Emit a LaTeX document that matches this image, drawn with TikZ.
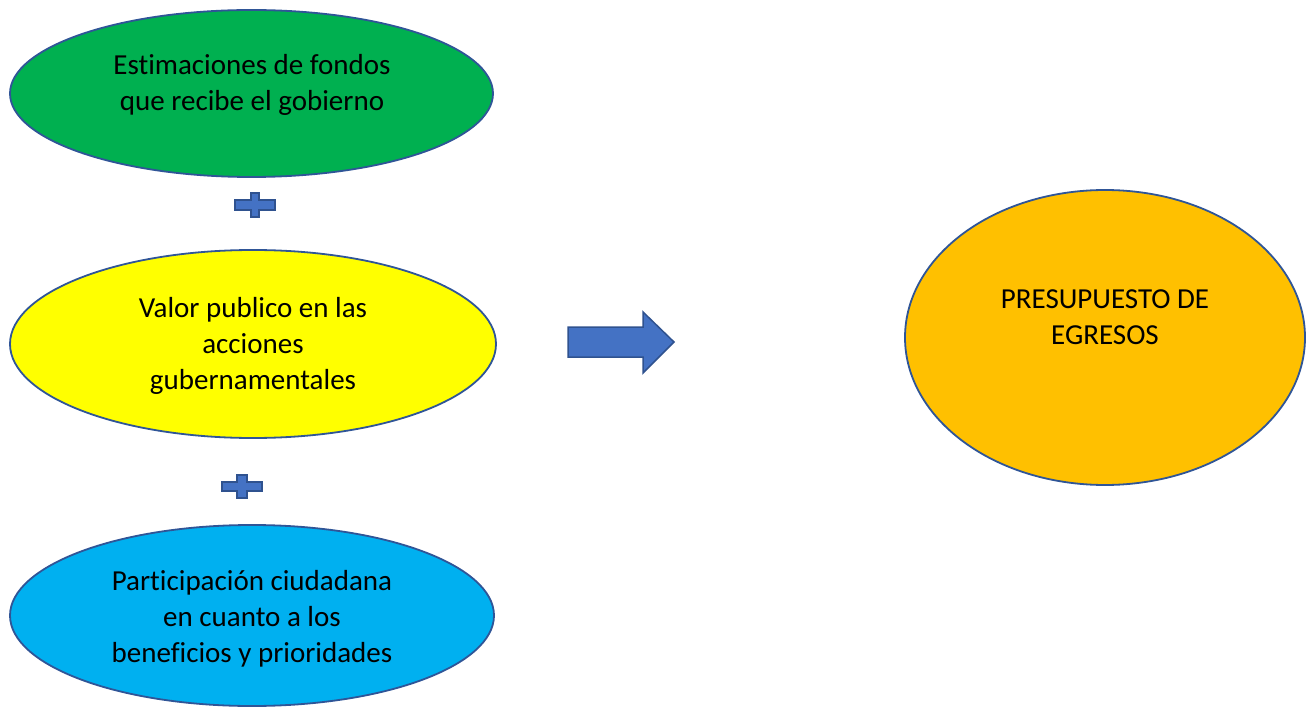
\documentclass[tikz,border=0pt]{standalone}
\usepackage{fontspec}
\setmainfont{Carlito}[Ligatures={NoCommon}]
\usetikzlibrary{shapes.geometric}
\definecolor{cgreen}{HTML}{00B050}
\definecolor{cyellow}{HTML}{FFFF00}
\definecolor{cblue}{HTML}{00B0F0}
\definecolor{corange}{HTML}{FFC000}
\definecolor{cline}{HTML}{2F5597}
\definecolor{carrow}{HTML}{4472C4}
\definecolor{carrowline}{HTML}{2F528F}
\tikzset{
  oval/.style={ellipse, draw=cline, line width=1.8pt, inner sep=0pt},
  txt/.style={align=center, font=\fontsize{29}{36}\selectfont, text=black, inner sep=0pt},
  shapebox/.style={fill=carrow, draw=carrowline, line width=1.5pt, line join=miter},
}
\begin{document}
\begin{tikzpicture}[x=1pt,y=-1pt]
\useasboundingbox (0,0) rectangle (1313,708);
\node[oval, fill=cgreen, minimum width=483pt, minimum height=167pt] (est) at (251.5,93.5) {};
\node[txt] (esttxt) at (252,85) {Estimaciones de fondos\\que recibe el gobierno};
\node[oval, fill=cyellow, minimum width=486pt, minimum height=188pt] (val) at (253,344) {};
\node[txt] (valtxt) at (253,346) {Valor publico en las\\acciones\\gubernamentales};
\node[oval, fill=cblue, minimum width=484pt, minimum height=181pt] (par) at (252,615.5) {};
\node[txt] (partxt) at (252,619) {Participación ciudadana\\en cuanto a los\\beneficios y prioridades};
\node[oval, fill=corange, minimum width=400pt, minimum height=295pt] (pre) at (1105,337.5) {};
\node[txt] (pretxt) at (1105,317) {PRESUPUESTO DE\\EGRESOS};
% plus signs
\coordinate (p1) at (255,205);
\draw[shapebox] ([shift={(-20,-5)}]p1) -- ++(16,0) -- ++(0,-7) -- ++(8,0) -- ++(0,7) -- ++(16,0) -- ++(0,10) -- ++(-16,0) -- ++(0,7) -- ++(-8,0) -- ++(0,-7) -- ++(-16,0) -- cycle;
\coordinate (p2) at (242,487);
\draw[shapebox] ([shift={(-20,-5)}]p2) -- ++(15,0) -- ++(0,-7) -- ++(10,0) -- ++(0,7) -- ++(15,0) -- ++(0,9) -- ++(-15,0) -- ++(0,7) -- ++(-10,0) -- ++(0,-7) -- ++(-15,0) -- cycle;
% block arrow
\coordinate (ar) at (568,342);
\draw[shapebox] ([shift={(0,-15)}]ar) -- ++(75,0) -- ++(0,-15) -- (674,342) -- (643,373) -- ++(0,-16) -- ++(-75,0) -- cycle;
\end{tikzpicture}
\end{document}
